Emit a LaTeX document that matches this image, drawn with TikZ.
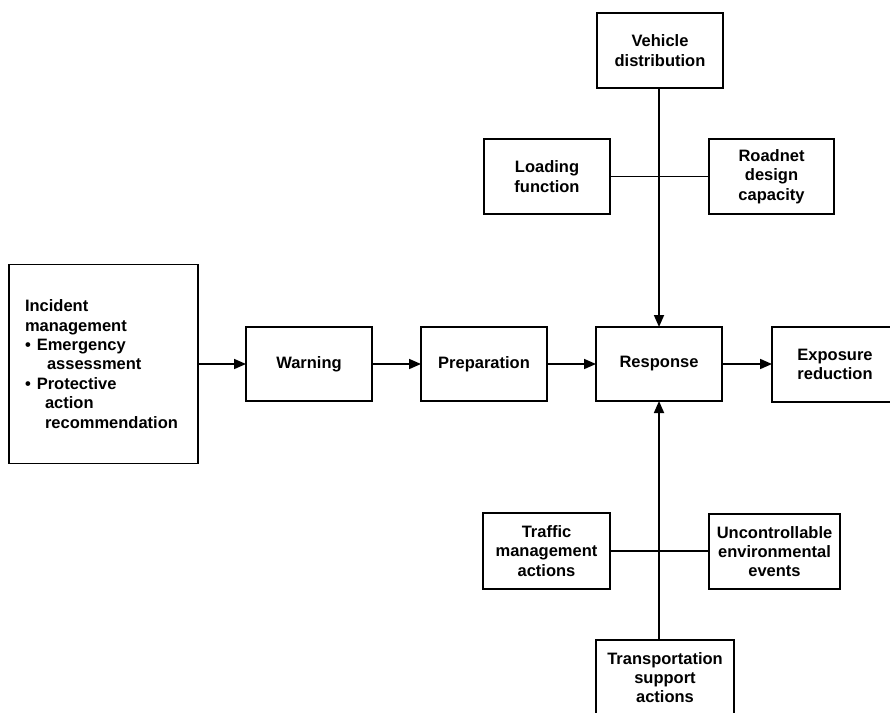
\documentclass[tikz,border=0pt]{standalone}
\usepackage{fontspec}
\setmainfont{Liberation Sans}
\usetikzlibrary{arrows.meta}
\tikzset{
  blk/.style={draw, line width=1.8pt, inner sep=0pt, outer sep=0pt, align=center,
    font=\fontsize{16.5}{19.4}\selectfont\bfseries},
  conn/.style={line width=1.7pt},
  arr/.style={line width=1.7pt, -{Triangle[length=12pt,width=10pt]}}
}
\begin{document}
\begin{tikzpicture}[x=1pt,y=-1pt]
\useasboundingbox[fill=white] (0,0) rectangle (890,712);
% main row
\node[blk, minimum width=189pt, minimum height=199pt, text width=157pt, align=left] (inc) at (103.5,364)
  {Incident\\management\\\textbullet\hspace{6pt}Emergency\\\hspace{22pt}assessment\\\textbullet\hspace{6pt}Protective\\\hspace{20pt}action\\\hspace{20pt}recommendation};
\node[blk, minimum width=126pt, minimum height=74pt] (warn) at (309,364) {Warning};
\node[blk, minimum width=126pt, minimum height=74pt] (prep) at (484,364) {Preparation};
\node[blk, minimum width=126pt, minimum height=74pt] (resp) at (659,364) {Response};
\node[blk, minimum width=126pt, minimum height=75pt] (expo) at (835,364.5) {Exposure\\reduction};
% top
\node[blk, minimum width=126pt, minimum height=75pt] (veh) at (660,50.5) {Vehicle\\distribution};
\node[blk, minimum width=126pt, minimum height=75pt] (load) at (547,176.5) {Loading\\function};
\node[blk, minimum width=125pt, minimum height=75pt] (road) at (771.5,176.5) {Roadnet\\design\\capacity};
% bottom
\node[blk, minimum width=127pt, minimum height=76pt] (traf) at (546.5,551) {Traffic\\management\\actions};
\node[blk, minimum width=131pt, minimum height=75pt] (unc) at (774.5,551.5) {Uncontrollable\\environmental\\events};
\node[blk, minimum width=138pt, minimum height=75pt] (trans) at (665,677.5) {Transportation\\support\\actions};
% connectors
\draw[arr] (inc.east |- warn) -- (warn.west);
\draw[arr] (warn.east) -- (prep.west);
\draw[arr] (prep.east) -- (resp.west);
\draw[arr] (resp.east) -- (expo.west |- resp);
\draw[arr] (veh.south -| resp) -- (resp.north);
\draw[arr] (trans.north -| resp) -- (resp.south);
\draw[conn] (load.east) -- (road.west |- load);
\draw[conn] (traf.east) -- (unc.west |- traf);
\end{tikzpicture}
\end{document}
